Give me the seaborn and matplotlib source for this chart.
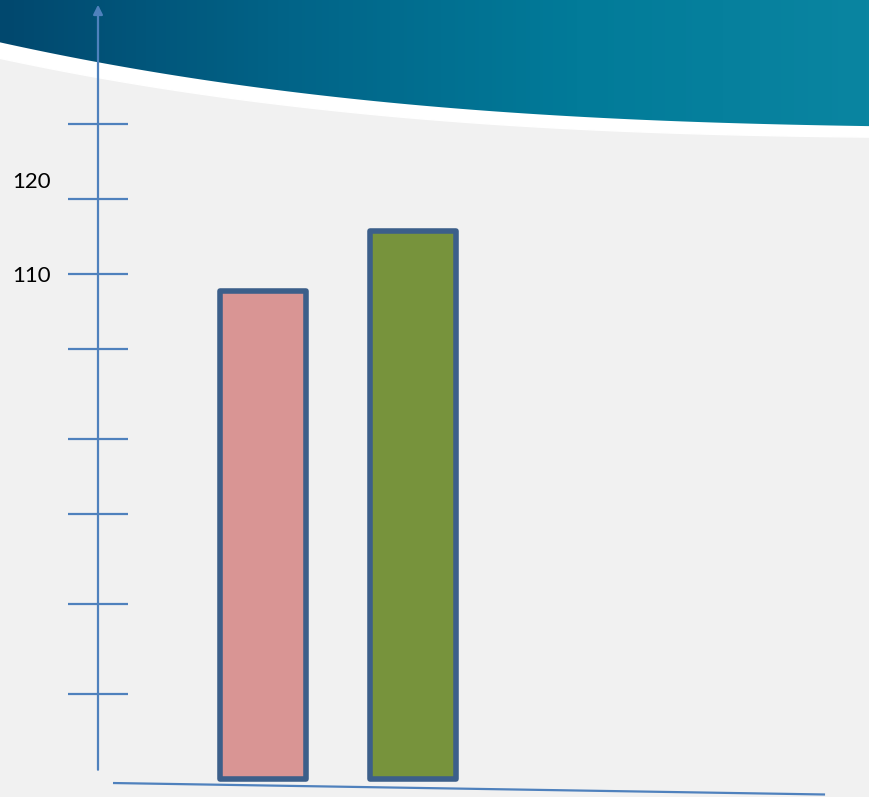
import numpy as np
import seaborn as sns
import matplotlib.pyplot as plt
from matplotlib.patches import Polygon

# data
categories = ["A", "B"]
values = [107.7, 115.7]
bar_colors = ["#d99594", "#77933c"]
tick_values = [130, 120, 110, 100, 88, 78, 66, 54]
label_texts = ["120", "110"]
label_positions = [122.3, 109.7]
baseline = 42.7

W, H = 869, 797
axis_blue = "#4f81bd"
edge_blue = "#3c5f8a"

sns.set_theme(style="white")
plt.rcParams['font.family'] = ['Lato', 'DejaVu Sans']

fig = plt.figure(figsize=(W / 100, H / 100), dpi=100)

# background slide decoration, in pixel coordinates
bg = fig.add_axes([0, 0, 1, 1])
bg.set_xlim(0, W)
bg.set_ylim(H, 0)
bg.axis('off')
bg.add_patch(plt.Rectangle((0, 0), W, H, color="#f1f1f1", zorder=0))

# smooth swoosh edge of the header
cx = np.array([0, 98, 200, 300, 400, 500, 600, 700, 800, 869])
cy = np.array([42, 63, 79, 93, 103, 112, 118, 122, 125, 126])
xs = np.linspace(0, W, 300)
top_curve = np.polyval(np.polyfit(cx, cy, 3), xs)
band = np.interp(xs, [0, 300, 869], [16, 14, 11])

white = Polygon(np.column_stack([np.r_[xs, xs[::-1]],
                                 np.r_[top_curve - 1, (top_curve + band)[::-1]]]),
                closed=True, color="white", zorder=1)
bg.add_patch(white)

head = Polygon(np.column_stack([np.r_[xs, W, 0], np.r_[top_curve, 0, 0]]),
               closed=True, facecolor="none", edgecolor="none")
bg.add_patch(head)
grad = np.linspace(0, 1, 256)[None, :]
cmap = sns.blend_palette(["#01486e", "#016488", "#027b99", "#0a85a1"], as_cmap=True)
im = bg.imshow(grad, extent=(0, W, 130, 0), cmap=cmap, aspect='auto', zorder=2)
im.set_clip_path(head)

# chart axes
ax = fig.add_axes([0, 0, 1, 1])
ax.patch.set_alpha(0)
sns.barplot(x=categories, y=values, hue=categories, palette=bar_colors,
            saturation=1, legend=False, width=0.57, ax=ax,
            edgecolor=edge_blue, linewidth=4)
for p, v in zip(ax.patches, values):
    p.set_y(baseline)
    p.set_height(v - baseline)
    p.set_joinstyle('round')

ax.set_xlim(-263 / 150, (W - 263) / 150)
ax.set_ylim(110 - (H - 274) / 7.5, 110 + 274 / 7.5)
ax.axis('off')

# hand-drawn axes
ax.annotate('', xy=(-1.1, 145.9), xytext=(-1.1, 43.9),
            arrowprops=dict(arrowstyle='-|>', color=axis_blue, lw=1.6,
                            mutation_scale=14, shrinkA=0, shrinkB=0))
ax.hlines(tick_values, -1.3, -0.9, color=axis_blue, lw=1.6)
ax.plot([-1.0, 3.747], [42.13, 40.6], color=axis_blue, lw=1.6,
        solid_capstyle='butt')
for t, y in zip(label_texts, label_positions):
    ax.text(-1.413, y, t, ha='right', va='center', fontsize=16, color='black')

fig.savefig('out.png', dpi=100)
